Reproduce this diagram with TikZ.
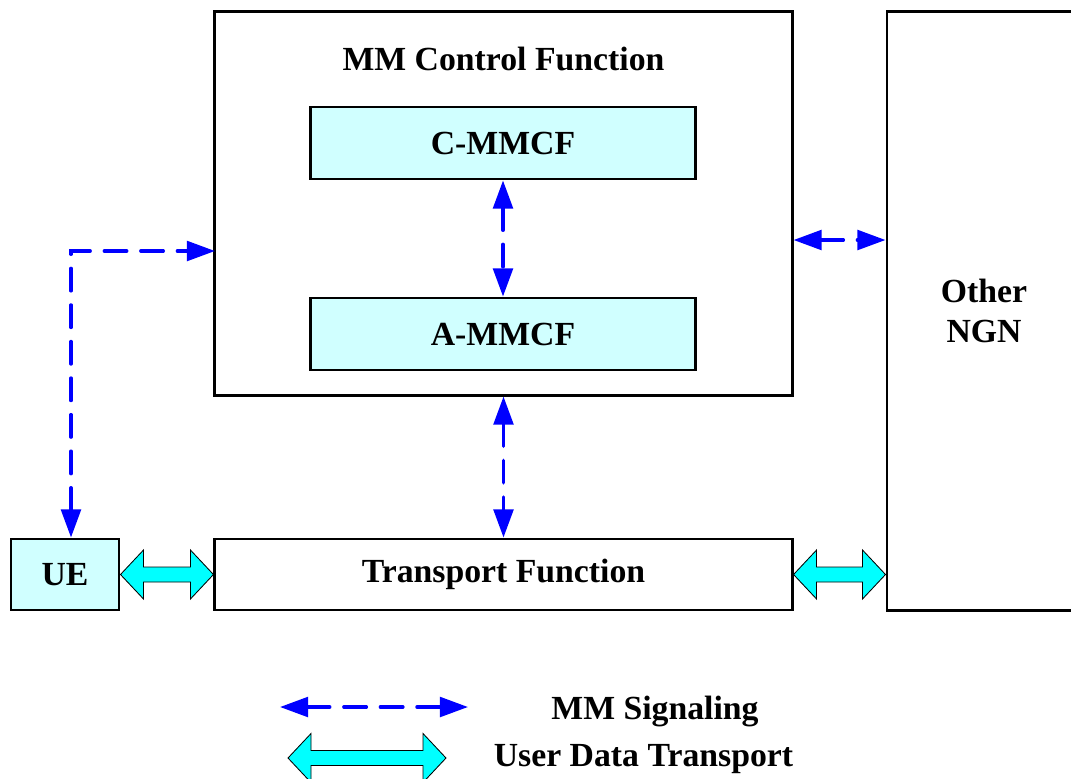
\documentclass[tikz,border=0pt]{standalone}
\usepackage{fontspec}
\setmainfont{Liberation Serif}
\usetikzlibrary{arrows.meta,calc}

\definecolor{mmcyan}{RGB}{208,255,255}
\definecolor{datacyan}{RGB}{0,255,255}
\definecolor{sigblue}{RGB}{0,0,255}

% wide two-headed block arrow between two points
\newcommand{\dataarrow}[2]{%
  \draw[data] (#1) -- ($(#1)+(23,-24.5)$) -- ($(#1)+(23,-7.5)$) -- ($(#2)+(-23,-7.5)$)
    -- ($(#2)+(-23,-24.5)$) -- (#2) -- ($(#2)+(-23,24.5)$) -- ($(#2)+(-23,7.5)$)
    -- ($(#1)+(23,7.5)$) -- ($(#1)+(23,24.5)$) -- cycle;}

\begin{document}
\begin{tikzpicture}[x=0.025cm, y=-0.025cm,
  box/.style={rectangle, draw=black, line width=2.1pt, inner sep=0pt},
  txt/.style={font=\bfseries\fontsize{24}{28}\selectfont},
  sig/.style={draw=sigblue, line width=2.4pt, dash pattern=on 16pt off 10pt, line cap=round,
    {Triangle[length=20pt,width=14pt]}-{Triangle[length=20pt,width=14pt]}},
  data/.style={fill=datacyan, draw=black, line width=0.6pt, line join=miter}]

  \useasboundingbox (0,0) rectangle (1071,778);

  % main blocks
  \node[box, minimum width=14.425cm, minimum height=9.575cm] (mmcf) at (503.5,203.5) {};
  \node[txt] (mmtitle) at (503.5,59) {MM Control Function};
  \node[box, txt, fill=mmcyan, minimum width=9.6cm, minimum height=1.8cm] (cmm) at (503,143) {C-MMCF};
  \node[box, txt, fill=mmcyan, minimum width=9.6cm, minimum height=1.8cm] (amm) at (503,334) {A-MMCF};

  \node[box, txt, minimum width=14.425cm, minimum height=1.775cm] (tf) at (503.5,574.5) {\raisebox{-3pt}{Transport Function}};
  \node[box, txt, fill=mmcyan, minimum width=2.7cm, minimum height=1.775cm] (ue) at (65,574.5) {UE};
  \node[box, txt, align=center, minimum width=4.85cm, minimum height=14.95cm] (ngn) at (984,311) {Other\\NGN};

  % signaling
  \coordinate (mmin) at (215,251);
  \draw[sig] ([xshift=0.15cm]ue.north) |- (mmin);
  \draw[sig] (cmm.south) -- (amm.north);
  \draw[sig] (mmcf.south) -- (tf.north);
  \draw[sig] (mmcf.east |- 0,240) -- (ngn.west |- 0,240);

  % user data
  \dataarrow{ue.east}{tf.west}
  \dataarrow{tf.east}{ngn.west |- tf.east}

  % legend
  \coordinate (sigl) at (280,707);
  \coordinate (sigr) at (468,707);
  \draw[sig] (sigl) -- (sigr);
  \node[txt] (sigtxt) at (655,712) {\raisebox{-3pt}{MM Signaling}};
  \coordinate (datl) at (288,758);
  \coordinate (datr) at (446,758);
  \dataarrow{datl}{datr}
  \node[txt] (dattxt) at (643.5,759) {User Data Transport};

\end{tikzpicture}
\end{document}
